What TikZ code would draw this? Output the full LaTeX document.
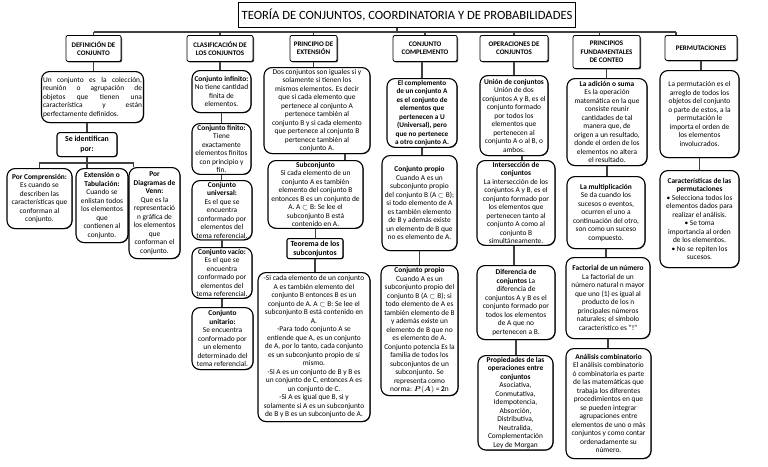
\documentclass[tikz,border=0pt]{standalone}
\usepackage{fontspec}
\setmainfont{Carlito}
\usepackage{amsmath,amssymb}
\usepackage{tikz}
\usetikzlibrary{shadows}

\begin{document}
\begin{tikzpicture}[x=1pt,y=-1pt,
        hdr/.style={draw,thick,rounded corners=2pt,fill=white,align=center,anchor=north,inner sep=1.5pt,
            font=\fontsize{7}{8.3}\selectfont\bfseries,
            drop shadow={shadow xshift=1pt,shadow yshift=-1pt,opacity=1,fill=black!80}},
        card/.style={draw,line width=1.1pt,rounded corners=8pt,fill=white,align=center,anchor=north,inner sep=1.5pt,
            font=\fontsize{7.4}{8.5}\selectfont,
            drop shadow={shadow xshift=0.6pt,shadow yshift=-0.6pt,opacity=1,fill=black!80}},
        lnk/.style={draw=black!75,line width=1.1pt}]
    \useasboundingbox (0,0) rectangle (768,466);

    % title and main branches
    \node[draw,thick,fill=white,anchor=north,minimum width=336pt,minimum height=25pt,
        font=\fontsize{12.6}{14}\selectfont,
        drop shadow={shadow xshift=0.8pt,shadow yshift=-0.8pt,opacity=1,fill=black!80}] (title) at (407,2)
        {TEORÍA DE CONJUNTOS, COORDINATORIA Y DE PROBABILIDADES};
    \node[hdr,minimum width=55pt,minimum height=26pt] (h1) at (93.5,35) {DEFINICIÓN DE\\CONJUNTO};
    \node[hdr,minimum width=66pt,minimum height=26pt] (h2) at (220,35) {CLASIFICACIÓN DE\\LOS CONJUNTOS};
    \node[hdr,minimum width=47pt,minimum height=26pt] (h3) at (313.5,35) {PRINCIPIO DE\\EXTENSIÓN};
    \node[hdr,minimum width=64pt,minimum height=26pt] (h4) at (425,35) {CONJUNTO\\COMPLEMENTO};
    \node[hdr,minimum width=68pt,minimum height=26pt] (h5) at (514,35) {OPERACIONES DE\\CONJUNTOS};
    \node[hdr,minimum width=67pt,minimum height=33pt] (h6) at (606.5,35) {PRINCIPIOS\\FUNDAMENTALES\\DE CONTEO};
    \node[hdr,minimum width=72pt,minimum height=25pt] (h7) at (701,35) {PERMUTACIONES};

    \coordinate (bus) at (0,32);
    \draw[lnk] ([xshift=-10pt]title.south) -- ([xshift=-10pt]title.south |- bus);
    \draw[lnk] (h1.north |- bus) -- ([xshift=-25pt]h7.north |- bus);
    \draw[lnk] (h1.north) -- (h1.north |- bus);
    \draw[lnk] (h2.north) -- (h2.north |- bus);
    \draw[lnk] (h3.north) -- (h3.north |- bus);
    \draw[lnk] (h4.north) -- (h4.north |- bus);
    \draw[lnk] (h5.north) -- (h5.north |- bus);
    \draw[lnk] ([xshift=-7pt]h6.north) -- ([xshift=-7pt]h6.north |- bus);
    \draw[lnk] ([xshift=-25pt]h7.north) -- ([xshift=-25pt]h7.north |- bus);

    % definicion de conjunto
    \node[card,text width=99pt,align=justify,minimum height=51pt] (d1) at (92.5,71)
        {Un conjunto es la colección,\linebreak reunión o agrupación de\linebreak objetos que tienen una\linebreak característica y están\linebreak perfectamente definidos.};
    \node[card,rounded corners=3pt,minimum width=60pt,minimum height=24pt,font=\fontsize{7.8}{10}\selectfont\bfseries] (d2) at (87,132)
        {Se identifican\\por:};
    \node[card,minimum width=65pt,minimum height=60pt] (d3) at (39.5,168)
        {\textbf{Por Comprensión:}\\Es cuando se\\describen las\\características que\\conforman al\\conjunto.};
    \node[card,minimum width=52pt,minimum height=74pt] (d4) at (102,168)
        {\textbf{Extensión o}\\\textbf{Tabulación:}\\Cuando se\\enlistan todos\\los elementos\\que\\contienen al\\conjunto.};
    \node[card,minimum width=51pt,minimum height=91pt] (d5) at (154.5,167)
        {\textbf{Por}\\\textbf{Diagramas de}\\\textbf{Venn:}\\Que es la\\representació\\n gráfica de\\los elementos\\que\\conforman el\\conjunto.};
    \draw[lnk] (h1.south) -- (h1.south |- d1.north);
    \draw[lnk] (d2.north) -- (d2.north |- d1.south);
    \coordinate (br) at (0,163);
    \draw[lnk] (d2.south) -- (d2.south |- d4.north);
    \draw[lnk] (d3.north) -- (d3.north |- br) -- ([xshift=-21pt]d5.north |- br) -- ([xshift=-21pt]d5.north);

    % clasificacion
    \node[card,minimum width=59pt,minimum height=42pt] (c1) at (221.5,70)
        {\textbf{Conjunto infinito:}\\No tiene cantidad\\finita de\\elementos.};
    \node[card,minimum width=59pt,minimum height=47pt] (c2) at (221.5,123)
        {\textbf{Conjunto finito:}\\Tiene\\exactamente\\elementos finitos\\con principio y\\fin.};
    \node[card,minimum width=60pt,minimum height=57pt] (c3) at (222,180)
        {\textbf{Conjunto}\\\textbf{universal:}\\Es el que se\\encuentra\\conformado por\\elementos del\\tema referencial.};
    \node[card,minimum width=60pt,minimum height=50pt] (c4) at (222,247)
        {\textbf{Conjunto vacío:}\\Es el que se\\encuentra\\conformado por\\elementos del\\tema referencial.};
    \node[card,minimum width=61pt,minimum height=62pt] (c5) at (222.5,307)
        {\textbf{Conjunto}\\\textbf{unitario:}\\Se encuentra\\conformado por\\un elemento\\determinado del\\tema referencial.};
    \draw[lnk] (h2.south) -- (h2.south |- c1.north);
    \draw[lnk] (c1.south) -- (c1.south |- c2.north);
    \draw[lnk] (c2.south) -- (c2.south |- c3.north);
    \draw[lnk] (c3.south) -- (c3.south |- c4.north);
    \draw[lnk] (c4.south) -- (c4.south |- c5.north);

    % principio de extension
    \node[card,minimum width=106pt,minimum height=86pt] (e1) at (317,67)
        {Dos conjuntos son iguales si y\\solamente si tienen los\\mismos elementos. Es decir\\que si cada elemento que\\pertenece al conjunto A\\pertenece también al\\conjunto B y si cada elemento\\que pertenece al conjunto B\\pertenece también al\\conjunto A.};
    \node[card,minimum width=95pt,minimum height=67pt] (e2) at (315.5,160)
        {\textbf{Subconjunto}\\Si cada elemento de un\\conjunto A es también\\elemento del conjunto B\\entonces B es un conjunto de\\A. A $\subset$ B: Se lee el\\subconjunto B está\\contenido en A.};
    \node[card,rounded corners=2pt,minimum width=56pt,minimum height=20pt,font=\fontsize{7.8}{9}\selectfont\bfseries] (e3) at (315,238)
        {Teorema de los\\subconjuntos};
    \node[card,minimum width=112pt,minimum height=149pt] (e4) at (314,272)
        {-Si cada elemento de un conjunto\\A es también elemento del\\conjunto B entonces B es un\\conjunto de A. A $\subset$ B: Se lee el\\subconjunto B está contenido en\\A.\\-Para todo conjunto A se\\entiende que A, es un conjunto\\de A, por lo tanto, cada conjunto\\es un subconjunto propio de sí\\mismo.\\-Si A es un conjunto de B y B es\\un conjunto de C, entonces A es\\un conjunto de C.\\-Si A es igual que B, si y\\solamente si A es un subconjunto\\de B y B es un subconjunto de A.};
    \draw[lnk] (h3.south) -- (h3.south |- e1.north);
    \draw[lnk] ([xshift=28pt]e1.south) -- ([xshift=28pt]e1.south |- e2.north);
    \draw[lnk] (e2.south) -- (e2.south |- e3.north);
    \draw[lnk] (e3.south) -- (e3.south |- e4.north);

    % conjunto complemento
    \node[card,minimum width=70pt,minimum height=62pt,font=\fontsize{7.2}{8.5}\selectfont\bfseries] (k1) at (422,78)
        {El complemento\\de un conjunto A\\es el conjunto de\\elementos que\\pertenecen a U\\(Universal), pero\\que no pertenece\\a otro conjunto A.};
    \node[card,minimum width=75pt,minimum height=95pt] (k2) at (419.5,155)
        {\textbf{Conjunto propio}\\Cuando A es un\\subconjunto propio\\del conjunto B (A $\subset$ B);\\si todo elemento de A\\es también elemento\\de B y además existe\\un elemento de B que\\no es elemento de A.};
    \node[card,minimum width=77pt,minimum height=130pt] (k3) at (419.5,265)
        {\textbf{Conjunto propio}\\Cuando A es un\\subconjunto propio del\\conjunto B (A $\subset$ B); si\\todo elemento de A es\\también elemento de B\\y además existe un\\elemento de B que no\\es elemento de A.\\Conjunto potencia Es la\\familia de todos los\\subconjuntos de un\\subconjunto. Se\\representa como\\norma: $\boldsymbol{P}(\boldsymbol{A})$ = \textbf{2}n};
    \draw[lnk] ([xshift=-3pt]h4.south) -- ([xshift=-3pt]h4.south |- k1.north);
    \draw[lnk] (k1.south) -- (k1.south |- k2.north);
    \draw[lnk] (k2.south) -- (k2.south |- k3.north);

    % operaciones de conjuntos
    \node[card,minimum width=68pt,minimum height=80pt] (o1) at (514,75)
        {\textbf{Unión de conjuntos}\\Unión de dos\\conjuntos A y B, es el\\conjunto formado\\por todos los\\elementos que\\pertenecen al\\conjunto A o al B, o\\ambos.};
    \node[card,minimum width=78pt,minimum height=83pt] (o2) at (516,160)
        {\textbf{Intersección de}\\\textbf{conjuntos}\\La intersección de los\\conjuntos A y B, es el\\conjunto formado por\\los elementos que\\pertenecen tanto al\\conjunto A como al\\conjunto B\\simultáneamente.};
    \node[card,minimum width=78pt,minimum height=74pt] (o3) at (516,265)
        {\textbf{Diferencia de}\\\textbf{conjuntos} La\\diferencia de\\conjuntos A y B es el\\conjunto formado por\\todos los elementos\\de A que no\\pertenecen a B.};
    \node[card,minimum width=75pt,minimum height=83pt] (o4) at (515.5,355)
        {\textbf{Propiedades de las}\\\textbf{operaciones entre}\\\textbf{conjuntos}\\Asociativa,\\Conmutativa,\\Idempotencia,\\Absorción,\\Distributiva,\\Neutralida,\\Complementación\\Ley de Morgan};
    \draw[lnk] (h5.south) -- (h5.south |- o1.north);
    \draw[lnk] ([xshift=8pt]o1.south) -- ([xshift=8pt]o1.south |- o2.north);
    \draw[lnk] ([xshift=-2pt]o2.south) -- ([xshift=-2pt]o2.south |- o3.north);
    \draw[lnk] (o3.south) -- (o3.south |- o4.north);

    % principios fundamentales de conteo
    \node[card,minimum width=80pt,minimum height=87pt] (p1) at (607,78)
        {\textbf{La adición o suma}\\Es la operación\\matemática en la que\\consiste reunir\\cantidades de tal\\manera que, de\\origen a un resultado,\\donde el orden de los\\elementos no altera\\el resultado.};
    \node[card,minimum width=78pt,minimum height=72pt] (p2) at (606,176)
        {\textbf{La multiplicación}\\Se da cuando los\\sucesos o eventos,\\ocurren el uno a\\continuación del otro,\\son como un suceso\\compuesto.};
    \node[card,minimum width=84pt,minimum height=81pt] (p3) at (608,257)
        {\textbf{Factorial de un número}\\La factorial de un\\número natural n mayor\\que uno (1) es igual al\\producto de los n\\principales números\\naturales; el símbolo\\característico es "!"};
    \node[card,minimum width=85pt,minimum height=110pt] (p4) at (608.5,348)
        {\textbf{Análisis combinatorio}\\El análisis combinatorio\\ó combinatoria es parte\\de las matemáticas que\\trabaja los diferentes\\procedimientos en que\\se pueden integrar\\agrupaciones entre\\elementos de uno o más\\conjuntos y como contar\\ordenadamente su\\número.};
    \draw[lnk] (h6.south) -- (h6.south |- p1.north);
    \draw[lnk] (p1.south) -- (p1.south |- p2.north);
    \draw[lnk] (p2.south) -- (p2.south |- p3.north);
    \draw[lnk] (p3.south) -- (p3.south |- p4.north);

    % permutaciones
    \node[card,minimum width=79pt,minimum height=87pt] (m1) at (699.5,70)
        {La permutación es el\\arreglo de todos los\\objetos del conjunto\\o parte de estos, a la\\permutación le\\importa el orden de\\los elementos\\involucrados.};
    \node[card,minimum width=79pt,minimum height=97pt] (m2) at (699.5,170)
        {\textbf{Características de las}\\\textbf{permutaciones}\\• Selecciona todos los\\elementos dados para\\realizar el análisis.\\• Se toma\\importancia al orden\\de los elementos.\\• No se repiten los\\sucesos.};
    \draw[lnk] (h7.south) -- (h7.south |- m1.north);
    \draw[lnk] (m1.south) -- (m1.south |- m2.north);
\end{tikzpicture}
\end{document}
